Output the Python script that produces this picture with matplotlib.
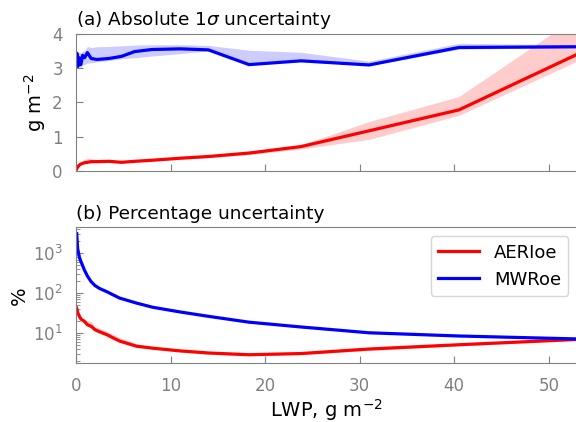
import matplotlib
matplotlib.use('Agg')
import matplotlib.pyplot as plt
import numpy as np

# (a) absolute 1-sigma uncertainty, g m-2
lwp_a = [0.0, 0.1, 0.2, 0.35, 0.5, 0.7, 0.9, 1.2, 1.6, 2.2, 3.5, 4.8, 6.2, 8.0,
         11.0, 14.0, 18.3, 23.8, 31.0, 40.5, 53.0]
aeri_abs = [0.02, 0.08, 0.12, 0.17, 0.2, 0.22, 0.24, 0.25, 0.27, 0.27, 0.28, 0.25,
            0.28, 0.31, 0.37, 0.42, 0.52, 0.71, 1.17, 1.78, 3.4]
aeri_abs_lo = [0.0, 0.06, 0.1, 0.15, 0.18, 0.2, 0.22, 0.23, 0.25, 0.25, 0.26, 0.24,
               0.26, 0.29, 0.34, 0.39, 0.48, 0.64, 0.92, 1.62, 3.2]
aeri_abs_hi = [0.05, 0.1, 0.15, 0.2, 0.24, 0.28, 0.33, 0.38, 0.36, 0.33, 0.31, 0.28,
               0.31, 0.34, 0.4, 0.46, 0.58, 0.76, 1.44, 2.17, 4.5]
mwr_abs = [3.2, 3.43, 3.05, 3.3, 3.1, 3.37, 3.3, 3.45, 3.28, 3.25, 3.28, 3.34,
           3.48, 3.54, 3.56, 3.53, 3.1, 3.21, 3.09, 3.6, 3.62]
mwr_abs_lo = [3.0, 3.05, 3.0, 3.05, 3.0, 3.1, 3.1, 3.15, 3.15, 3.18, 3.22, 3.27,
              3.3, 3.35, 3.42, 3.5, 3.1, 3.2, 3.07, 3.55, 3.6]
mwr_abs_hi = [3.45, 3.5, 3.45, 3.45, 3.45, 3.5, 3.5, 3.63, 3.6, 3.62, 3.63, 3.65,
              3.67, 3.68, 3.68, 3.66, 3.52, 3.46, 3.2, 3.72, 3.68]

# (b) percentage uncertainty, %
lwp_b = [0.07, 0.17, 0.35, 0.53, 0.88, 1.2, 1.59, 2.0, 2.5, 3.2, 4.6, 6.4, 8.1,
         11.0, 14.0, 18.3, 23.8, 31.0, 40.5, 53.0]
aeri_pct = [42, 33, 26, 22, 19.5, 16, 14.6, 12, 10.6, 9.1, 6.2, 4.6, 4.1, 3.5,
            3.1, 2.8, 3.0, 3.9, 5.0, 6.8]
aeri_pct_lo = [38, 30, 23, 20, 18, 14.5, 13.5, 11, 9.5, 8.5, 5.8, 4.3, 3.9, 3.3,
               2.9, 2.65, 2.85, 3.6, 4.7, 6.5]
aeri_pct_hi = [45, 36, 30, 25, 21, 20, 19.5, 14, 13, 11, 7.5, 5.3, 4.5, 3.8,
               3.3, 2.95, 3.15, 4.3, 5.4, 7.2]
mwr_pct = [3160, 1330, 800, 617, 383, 270, 195, 155, 130, 110, 75, 56, 44, 33.5,
           26, 18.5, 14, 10, 8.3, 7.0]
mwr_pct_lo = [3000, 1250, 760, 590, 365, 255, 185, 148, 124, 105, 72, 54, 42.5,
              32.5, 25.3, 18, 13.6, 9.8, 8.1, 6.9]
mwr_pct_hi = [3300, 1400, 840, 640, 400, 285, 205, 162, 136, 115, 78, 58, 45.5,
              34.5, 26.7, 19, 14.4, 10.2, 8.5, 7.1]

grey = '#808080'
plt.rcParams['font.family'] = 'DejaVu Sans'

fig = plt.figure(figsize=(5.76, 4.22), dpi=100)
ax1 = fig.add_axes([0.132, 0.595, 0.87, 0.325])
ax2 = fig.add_axes([0.132, 0.139, 0.87, 0.322])

# panel a
ax1.fill_between(lwp_a, aeri_abs_lo, aeri_abs_hi, color='red', alpha=0.2, lw=0)
ax1.fill_between(lwp_a, mwr_abs_lo, mwr_abs_hi, color='blue', alpha=0.2, lw=0)
ax1.plot(lwp_a, aeri_abs, color='red', lw=2.3)
ax1.plot(lwp_a, mwr_abs, color='blue', lw=2.3)
ax1.set_ylim(0, 4)
ax1.set_yticks([0, 1, 2, 3, 4])
ax1.set_ylabel('g m$^{-2}$', fontsize=14, labelpad=3)
ax1.set_title('(a) Absolute 1$\\sigma$ uncertainty', loc='left', fontsize=13.3)
ax1.tick_params(labelbottom=False)

# panel b
ax2.fill_between(lwp_b, aeri_pct_lo, aeri_pct_hi, color='red', alpha=0.2, lw=0)
ax2.fill_between(lwp_b, mwr_pct_lo, mwr_pct_hi, color='blue', alpha=0.2, lw=0)
ax2.plot(lwp_b, aeri_pct, color='red', lw=2.3, label='AERIoe')
ax2.plot(lwp_b, mwr_pct, color='blue', lw=2.3, label='MWRoe')
ax2.set_yscale('log')
ax2.set_ylim(1.7, 4500)
ax2.set_ylabel('%', fontsize=14, labelpad=3)
ax2.set_xlabel('LWP, g m$^{-2}$', fontsize=14, labelpad=2)
ax2.set_title('(b) Percentage uncertainty', loc='left', fontsize=13.3)
leg = ax2.legend(loc='upper right', fontsize=13, frameon=True, fancybox=True,
                 handlelength=2.3)
leg.get_frame().set_edgecolor('#cccccc')

for ax in (ax1, ax2):
    ax.set_xlim(0, 53)
    ax.set_xticks([0, 10, 20, 30, 40, 50])
    ax.tick_params(which='both', direction='in', color=grey, labelcolor=grey,
                   labelsize=12, pad=9.5)
    ax.tick_params(which='major', length=5)
    ax.tick_params(which='minor', length=3)
    for s in ax.spines.values():
        s.set_color(grey)

fig.savefig('out.png', dpi=100)
